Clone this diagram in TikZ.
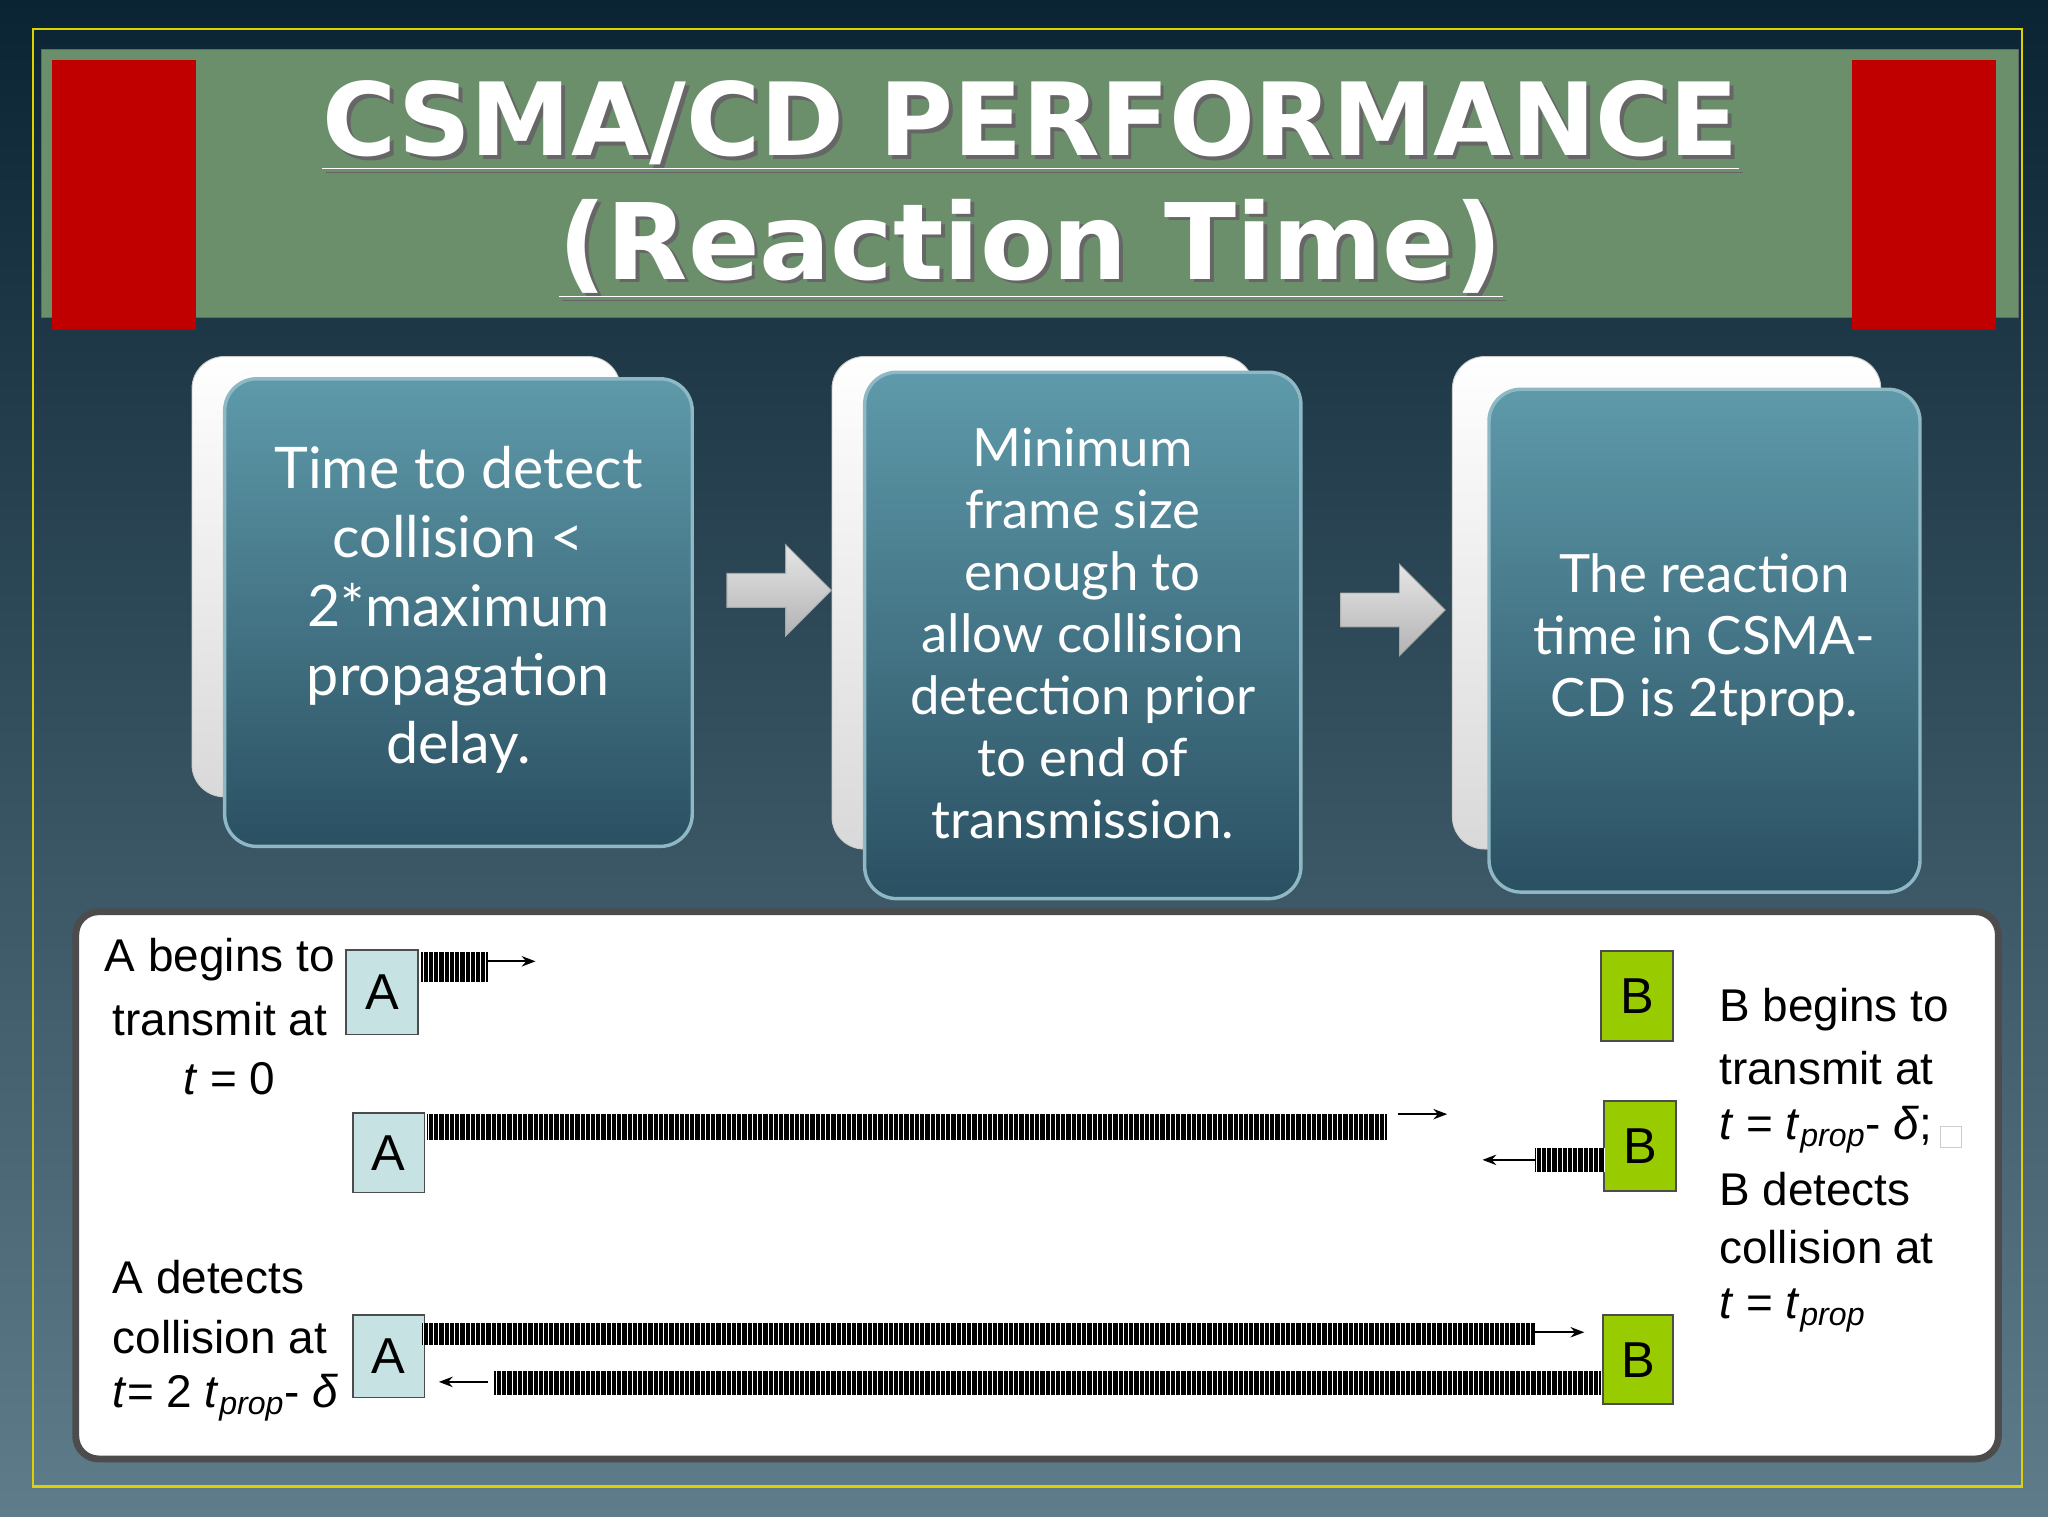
\documentclass[tikz,border=0pt]{standalone}
\usepackage{fontspec}
\setmainfont{Liberation Sans}
\newfontfamily\titlef{DejaVu Sans}
\newfontfamily\boxf{Lato}
\usetikzlibrary{arrows.meta,shapes.arrows}
\definecolor{bgtop}{HTML}{0B2433}
\definecolor{bgbot}{HTML}{5F7C8A}
\definecolor{band}{HTML}{6B8F6B}
\definecolor{redsq}{HTML}{C00000}
\definecolor{boxtop}{HTML}{5E9AAA}
\definecolor{boxbot}{HTML}{2A5062}
\definecolor{acol}{HTML}{C6E2E2}
\definecolor{bcol}{HTML}{99CC00}
\tikzset{
 backbox/.style={rounded corners=14pt,fill=white,draw=gray!40,top color=white,bottom color=gray!30},
 frontbox/.style={rounded corners=14pt,top color=boxtop,bottom color=boxbot,draw=boxtop!70!white,line width=1.5pt},
 boxtxt/.style={text=white,font=\boxf\fontsize{25}{30}\selectfont,align=center},
 blockarrow/.style={single arrow,single arrow head extend=6pt,minimum height=1.6cm,minimum width=1.4cm,top color=gray!20,bottom color=gray!60,draw=gray!70},
 abox/.style={fill=acol,draw=black!70,line width=0.8pt,font=\fontsize{22}{22}\selectfont},
 bbox/.style={fill=bcol,draw=black!70,line width=0.8pt,font=\fontsize{22}{22}\selectfont},
 lbl/.style={font=\fontsize{20}{23}\selectfont,anchor=west,inner sep=0},
 tarr/.style={-{Stealth[length=6pt]},line width=1pt}
}
\newcommand{\hatchbar}[4]{%
 \fill[black] (#1,#2) rectangle (#3,#4);
 \foreach \xx in {#1,...,#3}{\pgfmathparse{mod(\xx,4)==0}\ifnum\pgfmathresult=1 \draw[white,line width=0.35pt] (\xx,#2) -- (\xx,#4);\fi}}
\newcommand{\tp}{\textit{t}\textsubscript{\textit{prop}}}
\begin{document}
\begin{tikzpicture}[x=0.02cm,y=-0.02cm]
\useasboundingbox (0,0) rectangle (1568,1161);
\shade[top color=bgtop,bottom color=bgbot] (0,0) rectangle (1568,1161);
\draw[yellow!70!olive,line width=1pt] (25,22) rectangle (1548,1138);
\fill[band] (32,38) rectangle (1545,243);
\draw[black!60] (32,38) rectangle (1545,243);
\fill[redsq] (40,46) rectangle (150,253);
\fill[redsq] (1418,46) rectangle (1528,253);
\node[text=black!60] at (792,99) {\titlef\bfseries\fontsize{44}{44}\selectfont \underline{CSMA/CD PERFORMANCE}};
\node[text=white] (t1) at (789,96) {\titlef\bfseries\fontsize{44}{44}\selectfont \underline{CSMA/CD PERFORMANCE}};
\node[text=black!60] at (792,193) {\titlef\bfseries\fontsize{46}{46}\selectfont \underline{(Reaction Time)}};
\node[text=white] (t2) at (789,190) {\titlef\bfseries\fontsize{46}{46}\selectfont \underline{(Reaction Time)}};
% boxes
\draw[backbox] (147,273) rectangle (475,610);
\draw[frontbox] (172,290) rectangle (530,648);
\node[boxtxt] (b1) at (351,467) {Time to detect\\collision <\\2*maximum\\propagation\\delay.};
\draw[backbox] (637,273) rectangle (960,650);
\draw[frontbox] (662,285) rectangle (996,688);
\node[boxtxt,font=\boxf\fontsize{23}{27}\selectfont] (b2) at (829,485) {Minimum\\frame size\\enough to\\allow collision\\detection prior\\to end of\\transmission.};
\draw[backbox] (1112,273) rectangle (1440,650);
\draw[frontbox] (1140,298) rectangle (1470,683);
\node[boxtxt,font=\boxf\fontsize{23}{27}\selectfont] (b3) at (1305,490) {The reaction\\time in CSMA-\\CD is 2tprop.};
\node[blockarrow] (ar1) at (590,452) {};
\node[blockarrow] (ar2) at (1060,467) {};
% bottom panel
\draw[rounded corners=10pt,fill=white,draw=gray!60!black,line width=3pt] (58,698) rectangle (1530,1117);
\node[abox,minimum width=1.1cm,minimum height=1.3cm] (a1) at (292.5,759.5) {A};
\node[abox,minimum width=1.1cm,minimum height=1.22cm] (a2) at (297.5,882.5) {A};
\node[abox,minimum width=1.1cm,minimum height=1.26cm] (a3) at (297.5,1038.5) {A};
\node[bbox,minimum width=1.1cm,minimum height=1.38cm] (bb1) at (1253.5,762.5) {B};
\node[bbox,minimum width=1.1cm,minimum height=1.38cm] (bb2) at (1255.5,877.5) {B};
\node[bbox,minimum width=1.08cm,minimum height=1.36cm] (bb3) at (1254,1041) {B};
\hatchbar{322}{729}{374}{752}
\coordinate (e1) at (374,736); \coordinate (f1) at (410,736);
\draw[tarr] (e1) -- (f1);
\hatchbar{327}{853}{1062}{873}
\coordinate (e2) at (1070,853); \coordinate (f2) at (1108,853);
\draw[tarr] (e2) -- (f2);
\hatchbar{1175}{879}{1228}{897}
\coordinate (e3) at (1175,888); \coordinate (f3) at (1135,888);
\draw[tarr] (e3) -- (f3);
\hatchbar{323}{1013}{1175}{1030}
\coordinate (e4) at (1175,1020); \coordinate (f4) at (1213,1020);
\draw[tarr] (e4) -- (f4);
\hatchbar{378}{1050}{1226}{1068}
\coordinate (e5) at (374,1058); \coordinate (f5) at (336,1058);
\draw[tarr] (e5) -- (f5);
% labels
\node[lbl] (l1) at (80,735) {A begins to};
\node[lbl] (l2) at (86,780) {transmit at};
\node[lbl] (l3) at (140,826) {\textit{t} = 0};
\node[lbl] (l4) at (86,978) {A detects};
\node[lbl] (l5) at (86,1024) {collision at};
\node[lbl] (l6) at (86,1070) {\textit{t}= 2 \tp- \textit{δ}};
\node[lbl] (r1) at (1316,773) {B begins to};
\node[lbl] (r2) at (1316,818) {transmit at};
\node[lbl] (r3) at (1316,865) {\textit{t} = \tp- \textit{δ};\,\textcolor{gray!40}{\fbox{\phantom{\tiny a}}}};
\node[lbl] (r4) at (1316,910) {B detects};
\node[lbl] (r5) at (1316,955) {collision at};
\node[lbl] (r6) at (1316,1003) {\textit{t} = \tp};
\end{tikzpicture}
\end{document}
